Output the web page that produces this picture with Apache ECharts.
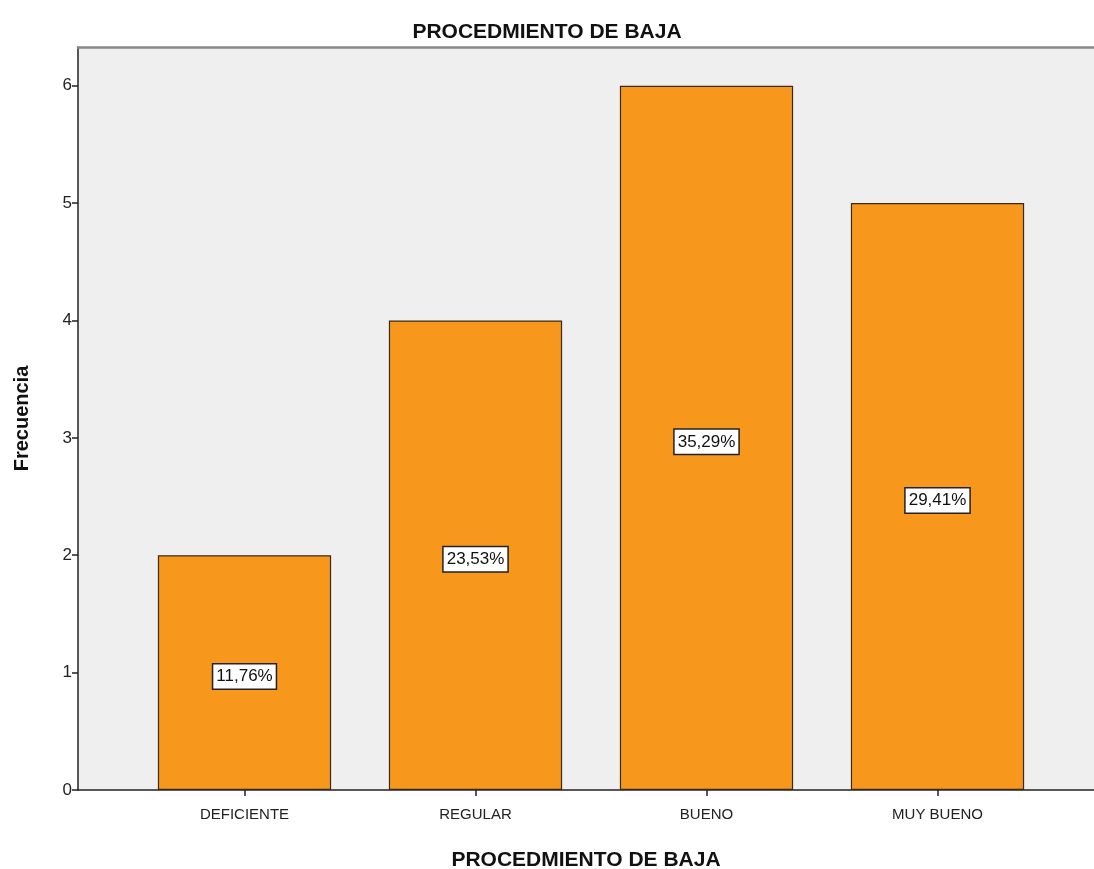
<!DOCTYPE html>
<html>
<head>
<meta charset="utf-8">
<script src="https://cdn.jsdelivr.net/npm/echarts@6/dist/echarts.min.js"></script>
<style>
  html, body { margin: 0; padding: 0; background: #fff; }
  #chart-container { width: 1094px; height: 869px; }
</style>
</head>
<body>
<div id="chart-container"></div>
<script>
'use strict';

const categories = ['DEFICIENTE', 'REGULAR', 'BUENO', 'MUY BUENO'];
const frecuencias = [2, 4, 6, 5];
const porcentajes = ['11,76%', '23,53%', '35,29%', '29,41%'];
const yTicks = [0, 1, 2, 3, 4, 5, 6];

const FONT = 'Liberation Sans, Arial, sans-serif';
const Y_MAX = 6.33;

const myChart = echarts.init(document.getElementById('chart-container'), null, {
    renderer: 'canvas'
});

const option = {
    backgroundColor: '#ffffff',
    animation: false,
    title: {
        text: 'PROCEDMIENTO DE BAJA',
        left: 'center',
        top: 17,
        textStyle: {
            fontFamily: FONT,
            fontSize: 21,
            fontWeight: 'bold',
            color: '#111'
        }
    },
    grid: [
        // full plot frame with the gray background
        { left: 78, right: 0, top: 47, bottom: 79, show: true, backgroundColor: '#efefef', borderWidth: 0, outerBoundsMode: 'none', containLabel: false },
        // inner grid where the categories live
        { left: 129, right: 41, top: 47, bottom: 79, outerBoundsMode: 'none', containLabel: false }
    ],
    xAxis: [
        {
            gridIndex: 0,
            type: 'value',
            min: 0,
            max: 1,
            axisLine: { show: true, onZero: false, lineStyle: { color: '#222', width: 1.5 } },
            axisTick: { show: false },
            axisLabel: { show: false },
            splitLine: { show: false },
            name: 'PROCEDMIENTO DE BAJA',
            nameLocation: 'middle',
            nameGap: 60,
            nameTextStyle: {
                fontFamily: FONT,
                fontSize: 21,
                fontWeight: 'bold',
                color: '#111'
            }
        },
        {
            gridIndex: 1,
            type: 'category',
            data: categories,
            axisLine: { show: false },
            axisTick: { show: true, alignWithLabel: true, length: 6, lineStyle: { color: '#222', width: 1.5 } },
            axisLabel: { fontFamily: FONT, fontSize: 15, color: '#222', margin: 17 },
            splitLine: { show: false }
        },
        {
            // top border line of the frame
            gridIndex: 0,
            type: 'value',
            position: 'top',
            min: 0,
            max: 1,
            axisLine: { show: true, onZero: false, lineStyle: { color: '#888', width: 2.5 } },
            axisTick: { show: false },
            axisLabel: { show: false },
            splitLine: { show: false }
        }
    ],
    yAxis: [
        {
            gridIndex: 0,
            type: 'value',
            min: yTicks[0],
            max: Y_MAX,
            interval: 1,
            axisLine: { show: true, lineStyle: { color: '#222', width: 1.5 } },
            axisTick: { show: true, length: 6, lineStyle: { color: '#222', width: 1.5 } },
            axisLabel: {
                fontFamily: FONT,
                fontSize: 17,
                color: '#222',
                margin: 6,
                showMaxLabel: false,
                formatter: (v) => (yTicks.indexOf(v) >= 0 ? String(v) : '')
            },
            splitLine: { show: false },
            name: 'Frecuencia',
            nameLocation: 'middle',
            nameGap: 46,
            nameTextStyle: {
                fontFamily: FONT,
                fontSize: 20,
                fontWeight: 'bold',
                color: '#111'
            }
        },
        {
            gridIndex: 1,
            type: 'value',
            min: 0,
            max: Y_MAX,
            show: false
        }
    ],
    series: [
        {
            type: 'bar',
            xAxisIndex: 1,
            yAxisIndex: 1,
            data: frecuencias,
            barCategoryGap: '25%',
            itemStyle: {
                color: '#f7981d',
                borderColor: '#3a2a1a',
                borderWidth: 1.2
            },
            label: {
                show: true,
                position: 'inside',
                offset: [0, 4],
                formatter: (p) => porcentajes[p.dataIndex],
                fontFamily: FONT,
                fontSize: 17,
                color: '#111',
                backgroundColor: '#ffffff',
                borderColor: '#222',
                borderWidth: 1.5,
                padding: [4, 3, 3, 3]
            }
        }
    ]
};

myChart.setOption(option);
window.addEventListener('resize', myChart.resize);
</script>
</body>
</html>
